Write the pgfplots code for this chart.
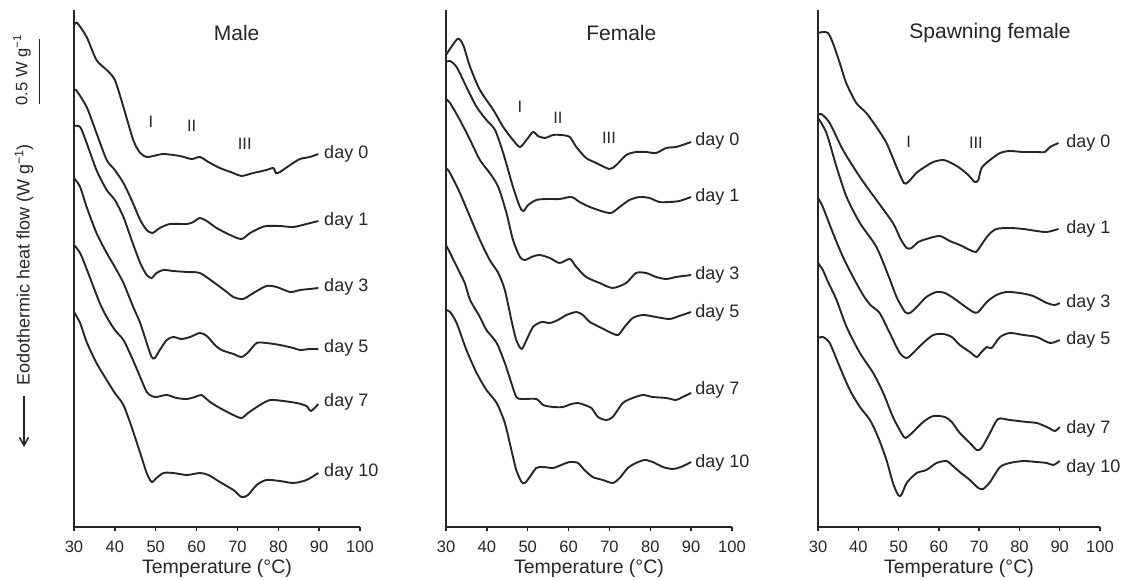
\documentclass[border=0pt]{standalone}
\usepackage{fontspec}
\setmainfont{Liberation Sans}
\usepackage{pgfplots}
\pgfplotsset{compat=1.18}
\usetikzlibrary{arrows.meta}
\definecolor{ink}{HTML}{262626}

\pgfplotsset{
  dsc/.style={
    scale only axis, height=517pt,
    xmin=30, xmax=100, ymin=0, ymax=517,
    axis x line*=bottom, axis y line*=left,
    axis line style={-, ink, line width=2pt},
    xtick={30,40,...,100}, ytick=\empty,
    tick align=outside, major tick length=3.5pt,
    tick style={ink, line width=1.4pt},
    xticklabel style={anchor=center, yshift=-16pt, text=ink,
      font=\fontsize{16.5}{18}\selectfont},
    /pgf/number format/assume math mode=true,
    clip=false,
  },
  curve/.style={ink, line width=1.9pt, smooth, tension=0.45},
}
\tikzset{
  daylbl/.style={anchor=west, inner sep=0pt, text=ink,
    font=\fontsize{18}{20}\selectfont},
  roman/.style={text=ink, inner sep=0pt, font=\fontsize{16.5}{18}\selectfont},
  ttl/.style={text=ink, inner sep=0pt, font=\fontsize{21}{23}\selectfont},
  xlab/.style={text=ink, inner sep=0pt, font=\fontsize{19.5}{21}\selectfont},
}

\begin{document}
\begin{tikzpicture}
\useasboundingbox (0,0) rectangle (1125pt,579pt);

% ---------------- Male ----------------
\begin{axis}[dsc, width=286pt, at={(74pt,52pt)}, anchor=south west]
\addplot[curve] coordinates {(30,502)(30.8,504)(33.1,490)(35.5,467)(38.0,457)(40.0,447)(42.1,420)(44.5,387)(46.2,374)(47.8,370)(49.4,371)(51.9,373)(55.9,371)(58.8,368)(60.8,370)(62.9,365)(65.7,359)(69.0,354)(71.0,351)(73.9,354)(77.1,357)(78.8,359)(79.4,354)(80.4,355)(82.9,362)(85.3,368)(87.7,370)(89.8,373)};
\addplot[curve] coordinates {(30,436)(30.5,437)(33.1,420)(35.5,394)(38.0,367)(40.0,357)(42.1,344)(44.1,327)(46.2,307)(47.8,297)(49.2,294)(51.0,299)(53.5,303)(57.6,303)(59.2,305)(60.8,309)(62.5,306)(64.9,299)(68.2,292)(71.0,288)(73.1,294)(75.5,299)(77.1,301)(80.4,301)(83.7,300)(86.9,303)(89.8,306)};
\addplot[curve] coordinates {(30,401)(31.5,400)(33.1,384)(35.5,357)(38.0,337)(40.0,327)(42.1,310)(44.1,287)(46.2,264)(47.8,252)(49.0,249)(50.2,254)(51.9,257)(54.3,256)(57.6,255)(60.8,254)(64.1,245)(67.4,235)(69.0,230)(71.4,228)(73.9,234)(77.1,241)(79.6,240)(82.9,235)(85.3,237)(87.7,238)(89.8,239)};
\addplot[curve] coordinates {(30,349)(31.5,340)(33.1,320)(35.5,294)(38.0,274)(40.0,260)(42.1,244)(44.5,220)(46.2,204)(47.8,184)(49.0,170)(49.8,169)(51.0,177)(52.7,187)(54.3,190)(56.3,188)(58.4,190)(60.8,194)(62.5,191)(64.5,182)(66.1,177)(69.0,173)(71.0,170)(72.7,175)(74.7,184)(77.1,184)(80.4,182)(83.7,179)(85.3,177)(87.7,178)(89.8,178)};
\addplot[curve] coordinates {(30,282)(31.5,274)(33.1,258)(34.5,243)(36.3,224)(38.0,210)(40.0,197)(42.1,187)(44.1,170)(46.2,150)(47.8,135)(49.0,131)(50.2,130)(52.7,132)(55.1,129)(57.6,128)(59.6,130)(61.2,132)(63.3,125)(65.7,119)(69.0,112)(71.0,109)(72.6,114)(75.5,122)(78.0,127)(81.2,126)(84.5,124)(86.9,121)(88.0,116)(89.8,123)};
\addplot[curve] coordinates {(30,215)(31.5,204)(33.1,185)(35.5,164)(38.0,147)(40.0,134)(42.1,122)(44.1,100)(46.2,74)(47.8,54)(49.0,45)(50.2,49)(51.9,54)(54.3,54)(57.6,52)(60.8,54)(62.9,52)(65.7,45)(69.0,37)(71.0,30)(72.6,32)(74.7,42)(77.1,47)(80.4,46)(83.7,44)(86.9,47)(89.8,54)};
\node[ttl] at (axis cs:69.8,494) {Male};
\node[roman] at (axis cs:48.8,405) {I};
\node[roman] at (axis cs:58.8,401) {II};
\node[roman] at (axis cs:71.8,383) {III};
\node[daylbl] at (axis cs:91.2,373) {day 0};
\node[daylbl] at (axis cs:91.2,306) {day 1};
\node[daylbl] at (axis cs:91.2,240) {day 3};
\node[daylbl] at (axis cs:91.2,179) {day 5};
\node[daylbl] at (axis cs:91.2,125) {day 7};
\node[daylbl] at (axis cs:91.2,55) {day 10};
\node[xlab] at (axis cs:65,0) [yshift=-41pt] {Temperature (°C)};
\end{axis}

% ---------------- Female ----------------
\begin{axis}[dsc, width=286pt, at={(446pt,52pt)}, anchor=south west]
\addplot[curve] coordinates {(30,472)(32.8,488)(34.2,482)(35.9,460)(38.3,437)(41.6,417)(44.0,400)(46.4,387)(48.1,380)(49.7,387)(51.3,395)(52.5,391)(54.2,389)(56.2,392)(58.2,392)(60.3,390)(61.9,380)(64.3,369)(66.8,364)(70.0,358)(71.7,362)(74.1,372)(76.5,375)(79.0,375)(81.4,374)(83.9,379)(86.3,380)(87.9,382)(90.0,385)};
\addplot[curve] coordinates {(30,465)(31.0,466)(32.6,460)(35.0,440)(37.5,420)(39.9,407)(42.0,397)(44.0,374)(46.4,340)(48.1,320)(49.0,316)(50.1,322)(52.1,327)(54.6,328)(57.8,328)(60.7,330)(62.7,325)(65.2,320)(68.0,316)(70.4,314)(72.5,320)(74.9,327)(77.4,330)(79.8,329)(82.2,325)(84.7,325)(87.1,326)(90.0,330)};
\addplot[curve] coordinates {(30,428)(31.0,424)(33.4,407)(35.9,387)(38.3,367)(40.7,354)(42.8,340)(44.8,314)(46.4,287)(48.1,270)(49.3,267)(50.9,270)(52.9,272)(55.4,269)(57.8,264)(60.3,268)(61.9,260)(64.3,250)(67.6,244)(70.8,239)(74.1,244)(76.5,254)(79.0,254)(81.4,250)(83.9,248)(86.3,250)(90.0,252)};
\addplot[curve] coordinates {(30,359)(31.0,354)(33.4,334)(35.9,310)(38.3,287)(40.7,267)(42.8,254)(44.4,237)(46.0,207)(47.2,187)(48.5,178)(49.7,187)(51.3,200)(53.4,205)(55.4,204)(57.4,207)(59.5,212)(61.9,215)(63.5,212)(65.2,205)(67.6,200)(70.0,195)(72.1,192)(73.7,200)(75.7,209)(78.2,212)(81.4,210)(84.7,208)(87.1,211)(90.0,215)};
\addplot[curve] coordinates {(30,282)(31.0,274)(33.4,254)(34.6,244)(35.9,227)(38.3,210)(39.9,197)(42.4,184)(44.4,164)(46.0,144)(47.2,130)(48.5,128)(52.1,128)(53.8,122)(56.2,120)(58.6,120)(60.7,123)(62.3,124)(63.9,122)(65.6,119)(67.2,110)(69.2,107)(70.8,110)(73.3,124)(75.7,129)(78.2,132)(80.6,130)(83.9,129)(86.3,127)(87.9,130)(90.0,134)};
\addplot[curve] coordinates {(30,217)(31.0,215)(32.6,204)(35.0,177)(37.5,154)(39.9,137)(42.4,124)(44.4,104)(46.0,77)(47.2,57)(48.5,45)(49.3,44)(50.5,50)(52.1,59)(53.8,60)(56.2,59)(58.2,62)(60.3,65)(62.3,64)(63.9,57)(65.9,50)(68.4,47)(70.8,44)(72.5,49)(74.5,59)(76.5,64)(78.6,67)(80.6,65)(83.1,60)(85.5,58)(87.5,60)(90.0,65)};
\node[ttl] at (axis cs:72.9,494) {Female};
\node[roman] at (axis cs:48.1,420) {I};
\node[roman] at (axis cs:57.4,409) {II};
\node[roman] at (axis cs:69.9,389) {III};
\node[daylbl] at (axis cs:91,386) {day 0};
\node[daylbl] at (axis cs:91,330) {day 1};
\node[daylbl] at (axis cs:91,252) {day 3};
\node[daylbl] at (axis cs:91,214) {day 5};
\node[daylbl] at (axis cs:91,137) {day 7};
\node[daylbl] at (axis cs:91,64) {day 10};
\node[xlab] at (axis cs:65,0) [yshift=-41pt] {Temperature (°C)};
\end{axis}

% ---------------- Spawning female ----------------
\begin{axis}[dsc, width=282pt, at={(818pt,52pt)}, anchor=south west]
\addplot[curve] coordinates {(30,494)(31.2,495)(32.5,494)(33.7,484)(35.4,464)(37.0,444)(39.5,424)(42.0,414)(44.5,400)(47.0,384)(49.5,360)(51.3,344)(52.4,345)(54.4,354)(56.1,359)(58.6,365)(61.1,367)(63.1,364)(65.2,359)(67.3,352)(68.9,345)(69.8,347)(70.6,359)(72.7,367)(75.2,374)(77.6,376)(80.9,375)(84.3,375)(86.3,375)(87.6,380)(89.7,384)};
\addplot[curve] coordinates {(30,412)(30.8,413)(32.9,404)(36.2,377)(40.4,350)(44.5,327)(48.6,304)(50.5,288)(52.0,279)(53.2,279)(54.9,285)(56.9,288)(60.2,291)(62.7,286)(65.2,282)(67.7,277)(69.2,275)(70.2,280)(72.3,292)(74.3,298)(77.6,299)(81.0,298)(84.3,296)(86.8,295)(89.7,298)};
\addplot[curve] coordinates {(30,409)(32.1,394)(34.6,360)(37.1,330)(40.4,304)(44.5,280)(47.6,250)(49.5,230)(51.6,215)(52.8,214)(54.5,220)(56.9,230)(59.4,235)(61.5,234)(63.6,229)(66.0,222)(68.5,215)(69.8,215)(71.9,225)(74.3,232)(76.8,235)(80.1,234)(83.4,231)(86.8,224)(88.8,222)(90.0,224)};
\addplot[curve] coordinates {(30,329)(31.2,320)(33.7,294)(36.2,270)(38.7,250)(41.2,232)(43.0,222)(45.3,214)(47.8,194)(50.3,174)(52.0,169)(53.6,174)(56.1,184)(58.6,192)(61.1,193)(63.2,190)(65.2,182)(67.7,175)(69.4,170)(70.6,175)(71.9,180)(73.1,179)(75.2,190)(77.6,194)(81.0,192)(84.3,190)(87.6,184)(90.0,187)};
\addplot[curve] coordinates {(30,264)(31.2,257)(32.5,245)(34.6,227)(37.1,200)(40.4,174)(43.7,154)(46.2,134)(48.6,110)(50.7,94)(51.7,89)(53.6,95)(56.1,105)(58.6,111)(61.5,110)(63.2,105)(65.2,94)(67.7,84)(69.4,77)(70.6,79)(72.7,94)(74.7,108)(77.6,107)(81.8,105)(84.3,104)(86.8,100)(88.8,96)(90.0,100)};
\addplot[curve] coordinates {(30,189)(31.2,190)(32.9,184)(35.4,160)(37.9,137)(40.4,120)(42.9,107)(44.9,90)(47.0,67)(48.6,44)(49.9,32)(50.7,32)(52.0,44)(54.5,54)(56.9,57)(59.4,64)(61.9,66)(63.2,62)(65.2,55)(67.7,47)(69.8,39)(71.0,38)(72.7,45)(75.2,60)(77.6,64)(81.0,66)(84.3,65)(86.8,64)(88.4,62)(90.0,66)};
\node[ttl] at (axis cs:72.7,494) {Spawning female};
\node[roman] at (axis cs:52.5,385) {I};
\node[roman] at (axis cs:69.2,384) {III};
\node[daylbl] at (axis cs:91.6,384) {day 0};
\node[daylbl] at (axis cs:91.6,298) {day 1};
\node[daylbl] at (axis cs:91.6,224) {day 3};
\node[daylbl] at (axis cs:91.6,187) {day 5};
\node[daylbl] at (axis cs:91.6,98) {day 7};
\node[daylbl] at (axis cs:91.6,59) {day 10};
\node[xlab] at (axis cs:65,0) [yshift=-41pt] {Temperature (°C)};
\end{axis}

% scale bar and y label
\draw[ink, line width=1.8pt] (39.5pt,540pt) -- (39.5pt,475pt);
\node[rotate=90, text=ink, inner sep=0pt, font=\fontsize{16.5}{18}\selectfont]
  at (22pt,509pt) {0.5 W g\textsuperscript{−1}};
\node[rotate=90, text=ink, inner sep=0pt, font=\fontsize{18}{20}\selectfont]
  at (24pt,314pt) {Eodothermic heat flow (W g\textsuperscript{−1})};
\draw[ink, line width=1.6pt, -{Straight Barb[length=8pt, width=9pt, line width=1.6pt]}]
  (24pt,183pt) -- (24pt,132pt);
\end{tikzpicture}
\end{document}
